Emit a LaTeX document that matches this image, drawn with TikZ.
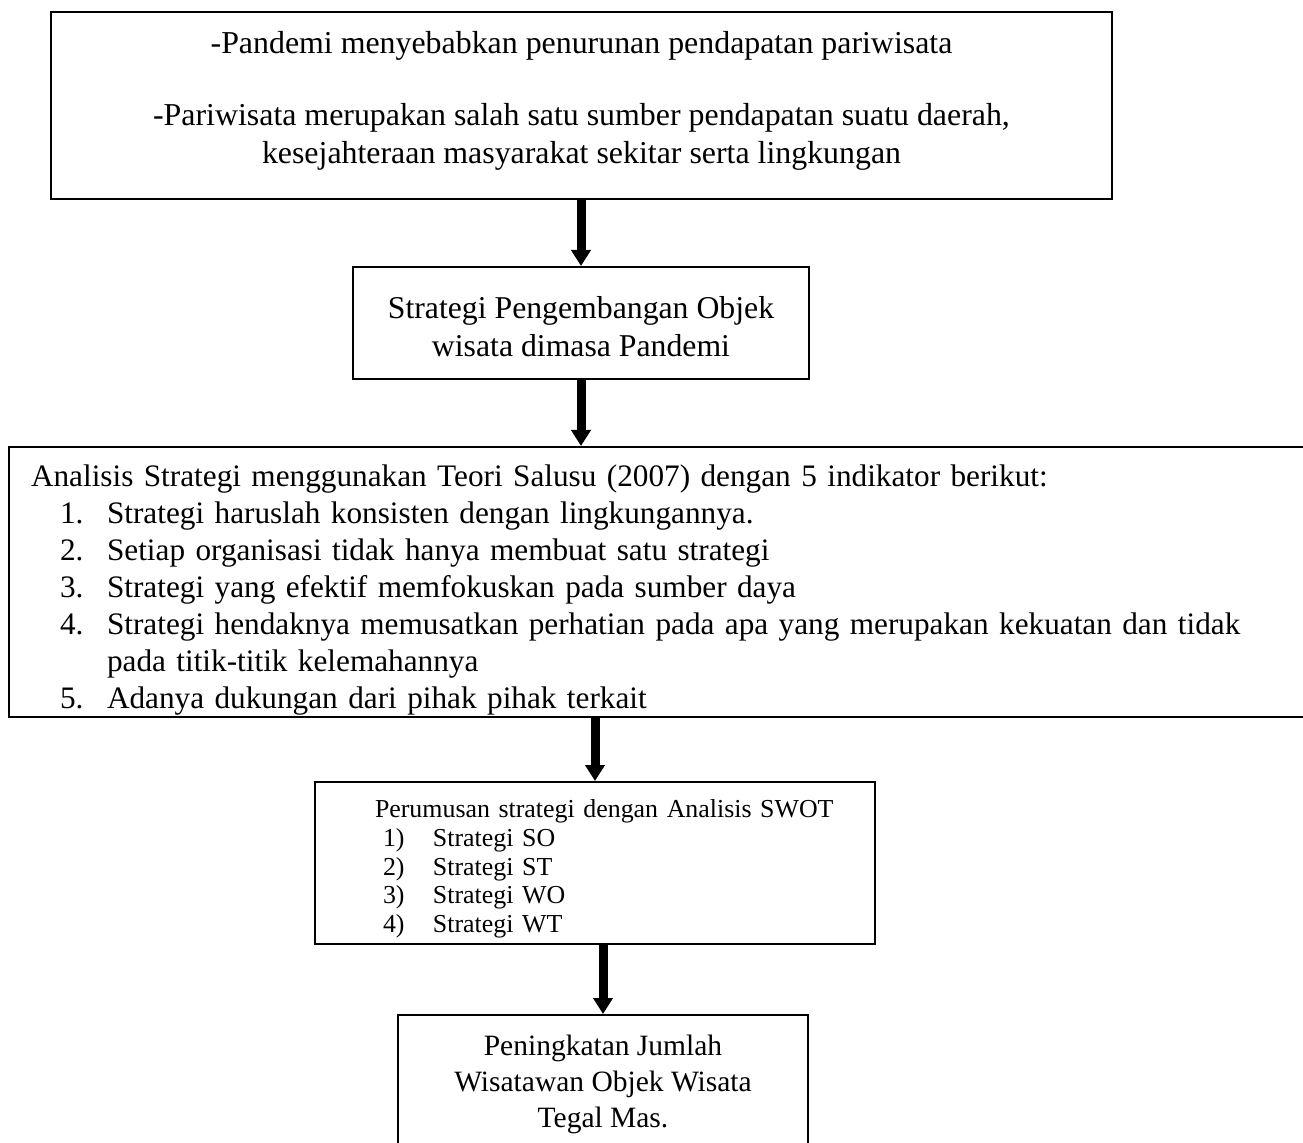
\documentclass[tikz,border=0pt]{standalone}
\usepackage{fontspec}
\setmainfont{Liberation Serif}
\usetikzlibrary{arrows.meta}
\newdimen\px \px=0.4pt
\newcommand{\butir}[2]{\hspace*{29\px}\makebox[47\px][l]{#1}#2}
\newcommand{\langkah}[2]{\hspace*{48\px}\makebox[50\px][l]{#1}#2}
\newcommand{\atas}[1]{\rule{0pt}{#1\px}}
\newcommand{\bawah}[1]{\rule[-#1\px]{0pt}{0pt}}
\tikzset{
  kotak/.style={draw, line width=0.8pt, inner sep=0pt, align=center},
  panah/.style={line width=3.6pt, -{Triangle[width=7.6pt,length=6.4pt]}}
}

\begin{document}
\begin{tikzpicture}[x=0.4pt,y=-0.4pt]
    \clip (0,0) rectangle (1303,1143);
    % kotak-kotak
    \node[kotak, minimum width=1061\px, minimum height=187\px, font=\fontsize{12.75}{15.2}\selectfont] (masalah) at (581.5,105.5)
        {-Pandemi menyebabkan penurunan pendapatan pariwisata\\[13.6pt]
         -Pariwisata merupakan salah satu sumber pendapatan suatu daerah,\\
         kesejahteraan masyarakat sekitar serta lingkungan\bawah{17}};
    \node[kotak, minimum width=456\px, minimum height=112\px, font=\fontsize{12.7}{15.2}\selectfont] (strategi) at (581,323)
        {\atas{30}Strategi Pengembangan Objek\\wisata dimasa Pandemi};
    \node[kotak, minimum width=1311\px, minimum height=270\px, text width=1267\px, inner xsep=22\px, align=left, font=\fontsize{12.5}{14.8}\selectfont] (analisis) at (664.5,582)
        {\atas{38}Analisis Strategi menggunakan Teori Salusu (2007) dengan 5 indikator berikut:\\
         \butir{1.}{Strategi haruslah konsisten dengan lingkungannya.}\\
         \butir{2.}{Setiap organisasi tidak hanya membuat satu strategi}\\
         \butir{3.}{Strategi yang efektif memfokuskan pada sumber daya}\\
         \butir{4.}{Strategi hendaknya memusatkan perhatian pada apa yang merupakan kekuatan dan tidak}\\
         \butir{}{pada titik-titik kelemahannya}\\
         \butir{5.}{Adanya dukungan dari pihak pihak terkait}};
    \node[kotak, minimum width=560\px, minimum height=162\px, text width=520\px, inner xsep=20\px, align=left, font=\fontsize{10.35}{11.5}\selectfont] (swot) at (595,863)
        {\atas{30}\hspace*{40\px}Perumusan strategi dengan Analisis SWOT\\
         \langkah{1)}{Strategi SO}\\
         \langkah{2)}{Strategi ST}\\
         \langkah{3)}{Strategi WO}\\
         \langkah{4)}{Strategi WT}};
    \node[kotak, minimum width=410\px, minimum height=138\px, font=\fontsize{11.8}{14.4}\selectfont] (hasil) at (603,1084)
        {Peningkatan Jumlah\\Wisatawan Objek Wisata\\Tegal Mas.};
    % panah
    \draw[panah] (strategi.north |- masalah.south) -- (strategi.north);
    \draw[panah] (strategi.south) -- (strategi.south |- analisis.north);
    \draw[panah] (swot.north |- analisis.south) -- (swot.north);
    \draw[panah] (hasil.north |- swot.south) -- (hasil.north);
\end{tikzpicture}
\end{document}
